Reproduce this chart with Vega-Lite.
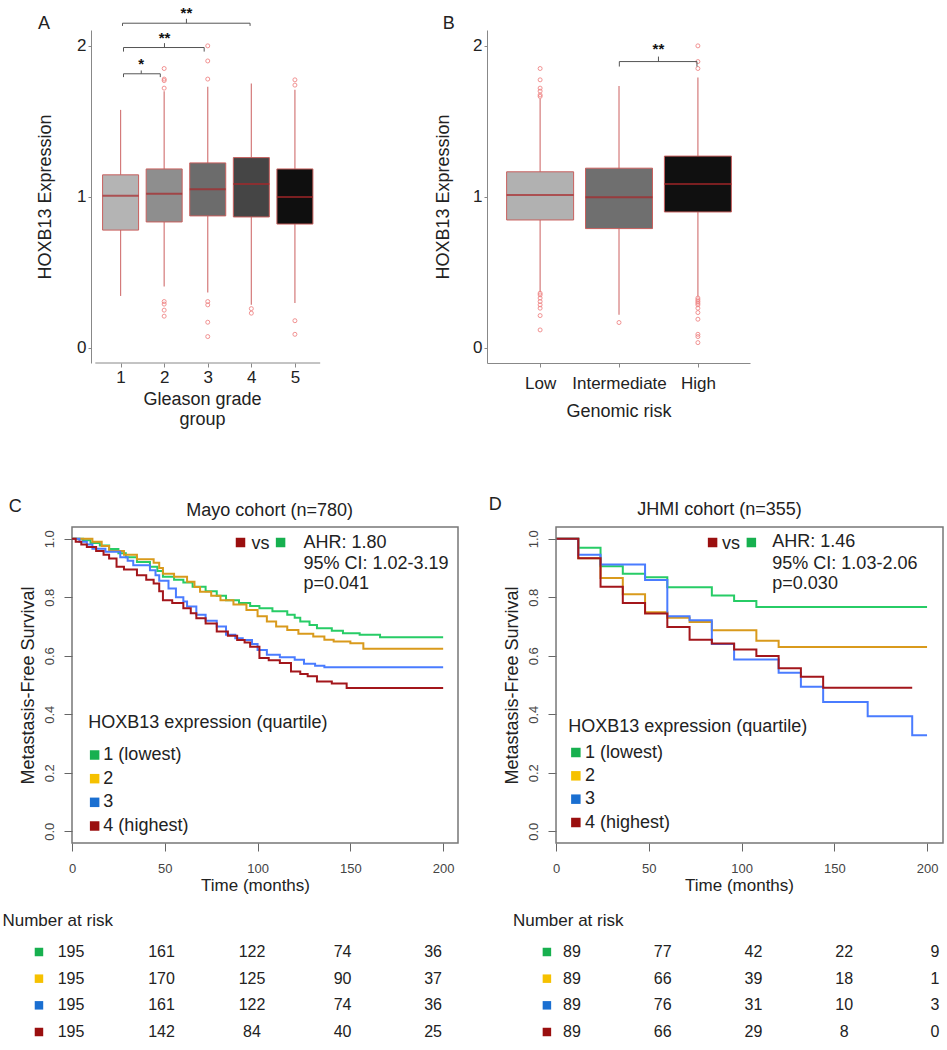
{
"$schema": "https://vega.github.io/schema/vega-lite/v6.json",
"background": "white",
"padding": {"left": 1, "top": 6, "right": 0, "bottom": 0},
"autosize": {"type": "pad"},
"config": {
  "font": "Liberation Sans",
  "view": {"stroke": null},
  "axis": {"grid": false, "titleFontWeight": "normal", "labelColor": "#222", "titleColor": "#222", "labelFont": "Liberation Sans", "titleFont": "Liberation Sans"},
  "text": {"font": "Liberation Sans", "color": "#222"}
},
"datasets": {
  "gleason": [
    {"g": 1, "lower": 0.344, "q1": 0.78, "median": 1.007, "q3": 1.146, "upper": 1.576},
    {"g": 2, "lower": 0.406, "q1": 0.834, "median": 1.02, "q3": 1.185, "upper": 1.70},
    {"g": 3, "lower": 0.366, "q1": 0.874, "median": 1.05, "q3": 1.225, "upper": 1.73},
    {"g": 4, "lower": 0.285, "q1": 0.867, "median": 1.086, "q3": 1.26, "upper": 1.75},
    {"g": 5, "lower": 0.298, "q1": 0.82, "median": 1.0, "q3": 1.185, "upper": 1.71}
  ],
  "gleasonOut": [
    {"g": 2, "v": 1.85}, {"g": 2, "v": 1.78}, {"g": 2, "v": 1.77}, {"g": 2, "v": 1.72}, {"g": 2, "v": 0.307}, {"g": 2, "v": 0.29}, {"g": 2, "v": 0.25}, {"g": 2, "v": 0.21},
    {"g": 3, "v": 2.0}, {"g": 3, "v": 1.90}, {"g": 3, "v": 1.78}, {"g": 3, "v": 0.307}, {"g": 3, "v": 0.285}, {"g": 3, "v": 0.17}, {"g": 3, "v": 0.075},
    {"g": 4, "v": 0.26}, {"g": 4, "v": 0.23},
    {"g": 5, "v": 1.775}, {"g": 5, "v": 1.74}, {"g": 5, "v": 0.18}, {"g": 5, "v": 0.09}
  ],
  "gleasonBr": [
    {"from": 1.067, "to": 1.911, "y": 1.815, "lo": 1.793, "mid": 1.474, "hi": 1.837, "ly": 1.845, "label": "*"},
    {"from": 1.067, "to": 2.918, "y": 1.989, "lo": 1.962, "mid": 2.007, "hi": 2.018, "ly": 2.017, "label": "**"},
    {"from": 1.044, "to": 3.971, "y": 2.15, "lo": 2.132, "mid": 2.511, "hi": 2.179, "ly": 2.183, "label": "**"}
  ],
  "genomic": [
    {"g": 1, "lower": 0.37, "q1": 0.847, "median": 1.013, "q3": 1.166, "upper": 1.65},
    {"g": 2, "lower": 0.22, "q1": 0.79, "median": 0.997, "q3": 1.19, "upper": 1.735},
    {"g": 3, "lower": 0.34, "q1": 0.90, "median": 1.085, "q3": 1.27, "upper": 1.79}
  ],
  "genomicOut": [
    {"g": 1, "v": 1.85}, {"g": 1, "v": 1.775}, {"g": 1, "v": 1.72}, {"g": 1, "v": 1.70}, {"g": 1, "v": 1.675}, {"g": 1, "v": 1.665},
    {"g": 1, "v": 0.362}, {"g": 1, "v": 0.351}, {"g": 1, "v": 0.33}, {"g": 1, "v": 0.307}, {"g": 1, "v": 0.285}, {"g": 1, "v": 0.263}, {"g": 1, "v": 0.214}, {"g": 1, "v": 0.119},
    {"g": 2, "v": 0.168},
    {"g": 3, "v": 2.0}, {"g": 3, "v": 1.896}, {"g": 3, "v": 1.85},
    {"g": 3, "v": 0.33}, {"g": 3, "v": 0.318}, {"g": 3, "v": 0.307}, {"g": 3, "v": 0.296}, {"g": 3, "v": 0.285}, {"g": 3, "v": 0.263}, {"g": 3, "v": 0.234}, {"g": 3, "v": 0.19}, {"g": 3, "v": 0.09}, {"g": 3, "v": 0.075}, {"g": 3, "v": 0.035}
  ],
  "genomicBr": [
    {"from": 2.004, "to": 2.988, "y": 1.896, "lo": 1.863, "mid": 2.5, "hi": 1.929, "ly": 1.949, "label": "**"}
  ],
  "legendRows": [
    {"q": "1", "label": "1 (lowest)"}, {"q": "2", "label": "2"}, {"q": "3", "label": "3"}, {"q": "4", "label": "4 (highest)"}
  ],
  "mayo": [
    {"q":"1","t":0,"s":1},{"q":"1","t":6,"s":0.995},{"q":"1","t":10,"s":0.985},{"q":"1","t":15,"s":0.977},{"q":"1","t":20,"s":0.965},{"q":"1","t":25,"s":0.95},{"q":"1","t":29,"s":0.937},{"q":"1","t":35,"s":0.92},{"q":"1","t":42,"s":0.904},{"q":"1","t":46,"s":0.89},{"q":"1","t":49,"s":0.87},{"q":"1","t":55,"s":0.86},{"q":"1","t":60,"s":0.85},{"q":"1","t":65,"s":0.836},{"q":"1","t":72,"s":0.82},{"q":"1","t":78,"s":0.805},{"q":"1","t":83,"s":0.79},{"q":"1","t":90,"s":0.78},{"q":"1","t":96,"s":0.77},{"q":"1","t":101,"s":0.762},{"q":"1","t":108,"s":0.752},{"q":"1","t":116,"s":0.74},{"q":"1","t":120,"s":0.73},{"q":"1","t":123,"s":0.717},{"q":"1","t":128,"s":0.705},{"q":"1","t":132,"s":0.694},{"q":"1","t":140,"s":0.685},{"q":"1","t":146,"s":0.677},{"q":"1","t":155,"s":0.672},{"q":"1","t":166,"s":0.663},{"q":"1","t":200,"s":0.663},
    {"q":"2","t":0,"s":1},{"q":"2","t":11,"s":0.99},{"q":"2","t":16,"s":0.975},{"q":"2","t":20,"s":0.958},{"q":"2","t":28,"s":0.945},{"q":"2","t":35,"s":0.93},{"q":"2","t":44,"s":0.918},{"q":"2","t":47,"s":0.9},{"q":"2","t":49,"s":0.88},{"q":"2","t":55,"s":0.87},{"q":"2","t":62,"s":0.853},{"q":"2","t":66,"s":0.835},{"q":"2","t":69,"s":0.819},{"q":"2","t":75,"s":0.805},{"q":"2","t":80,"s":0.79},{"q":"2","t":87,"s":0.775},{"q":"2","t":94,"s":0.756},{"q":"2","t":100,"s":0.735},{"q":"2","t":105,"s":0.717},{"q":"2","t":110,"s":0.7},{"q":"2","t":116,"s":0.688},{"q":"2","t":122,"s":0.675},{"q":"2","t":130,"s":0.666},{"q":"2","t":136,"s":0.655},{"q":"2","t":141,"s":0.649},{"q":"2","t":150,"s":0.643},{"q":"2","t":157,"s":0.624},{"q":"2","t":200,"s":0.624},
    {"q":"3","t":0,"s":1},{"q":"3","t":4,"s":0.99},{"q":"3","t":8,"s":0.98},{"q":"3","t":11,"s":0.966},{"q":"3","t":18,"s":0.955},{"q":"3","t":26,"s":0.937},{"q":"3","t":30,"s":0.925},{"q":"3","t":33,"s":0.909},{"q":"3","t":42,"s":0.892},{"q":"3","t":45,"s":0.875},{"q":"3","t":47,"s":0.856},{"q":"3","t":52,"s":0.83},{"q":"3","t":56,"s":0.8},{"q":"3","t":60,"s":0.785},{"q":"3","t":62,"s":0.768},{"q":"3","t":67,"s":0.74},{"q":"3","t":72,"s":0.72},{"q":"3","t":78,"s":0.7},{"q":"3","t":83,"s":0.672},{"q":"3","t":88,"s":0.66},{"q":"3","t":92,"s":0.654},{"q":"3","t":97,"s":0.64},{"q":"3","t":100,"s":0.62},{"q":"3","t":105,"s":0.603},{"q":"3","t":112,"s":0.595},{"q":"3","t":120,"s":0.586},{"q":"3","t":125,"s":0.573},{"q":"3","t":131,"s":0.566},{"q":"3","t":136,"s":0.561},{"q":"3","t":200,"s":0.561},
    {"q":"4","t":0,"s":1},{"q":"4","t":2,"s":0.99},{"q":"4","t":5,"s":0.98},{"q":"4","t":8,"s":0.972},{"q":"4","t":13,"s":0.958},{"q":"4","t":17,"s":0.945},{"q":"4","t":20,"s":0.932},{"q":"4","t":24,"s":0.904},{"q":"4","t":28,"s":0.895},{"q":"4","t":35,"s":0.875},{"q":"4","t":40,"s":0.86},{"q":"4","t":44,"s":0.847},{"q":"4","t":47,"s":0.82},{"q":"4","t":49,"s":0.79},{"q":"4","t":54,"s":0.78},{"q":"4","t":60,"s":0.762},{"q":"4","t":64,"s":0.745},{"q":"4","t":67,"s":0.728},{"q":"4","t":72,"s":0.71},{"q":"4","t":78,"s":0.683},{"q":"4","t":84,"s":0.668},{"q":"4","t":89,"s":0.654},{"q":"4","t":93,"s":0.645},{"q":"4","t":96,"s":0.631},{"q":"4","t":101,"s":0.592},{"q":"4","t":106,"s":0.585},{"q":"4","t":112,"s":0.575},{"q":"4","t":118,"s":0.546},{"q":"4","t":123,"s":0.538},{"q":"4","t":127,"s":0.53},{"q":"4","t":132,"s":0.512},{"q":"4","t":140,"s":0.505},{"q":"4","t":148,"s":0.49},{"q":"4","t":200,"s":0.49}
  ],
  "jhmi": [
    {"q":"1","t":0,"s":1},{"q":"1","t":12,"s":0.969},{"q":"1","t":24,"s":0.906},{"q":"1","t":36,"s":0.88},{"q":"1","t":48,"s":0.868},{"q":"1","t":60,"s":0.834},{"q":"1","t":84,"s":0.806},{"q":"1","t":96,"s":0.787},{"q":"1","t":108,"s":0.767},{"q":"1","t":200,"s":0.767},
    {"q":"2","t":0,"s":1},{"q":"2","t":12,"s":0.933},{"q":"2","t":24,"s":0.866},{"q":"2","t":36,"s":0.81},{"q":"2","t":48,"s":0.749},{"q":"2","t":60,"s":0.73},{"q":"2","t":72,"s":0.715},{"q":"2","t":84,"s":0.687},{"q":"2","t":108,"s":0.651},{"q":"2","t":120,"s":0.63},{"q":"2","t":200,"s":0.63},
    {"q":"3","t":0,"s":1},{"q":"3","t":12,"s":0.945},{"q":"3","t":24,"s":0.912},{"q":"3","t":48,"s":0.859},{"q":"3","t":60,"s":0.735},{"q":"3","t":72,"s":0.721},{"q":"3","t":84,"s":0.64},{"q":"3","t":96,"s":0.587},{"q":"3","t":120,"s":0.542},{"q":"3","t":132,"s":0.494},{"q":"3","t":144,"s":0.442},{"q":"3","t":168,"s":0.393},{"q":"3","t":192,"s":0.328},{"q":"3","t":200,"s":0.328},
    {"q":"4","t":0,"s":1},{"q":"4","t":12,"s":0.933},{"q":"4","t":24,"s":0.836},{"q":"4","t":36,"s":0.78},{"q":"4","t":48,"s":0.744},{"q":"4","t":60,"s":0.698},{"q":"4","t":72,"s":0.655},{"q":"4","t":84,"s":0.642},{"q":"4","t":96,"s":0.621},{"q":"4","t":108,"s":0.599},{"q":"4","t":120,"s":0.557},{"q":"4","t":132,"s":0.528},{"q":"4","t":144,"s":0.491},{"q":"4","t":192,"s":0.491}
  ],
  "riskMayo": [
    {"q":"1","t":0,"n":195},{"q":"1","t":50,"n":161},{"q":"1","t":100,"n":122},{"q":"1","t":150,"n":74},{"q":"1","t":200,"n":36},
    {"q":"2","t":0,"n":195},{"q":"2","t":50,"n":170},{"q":"2","t":100,"n":125},{"q":"2","t":150,"n":90},{"q":"2","t":200,"n":37},
    {"q":"3","t":0,"n":195},{"q":"3","t":50,"n":161},{"q":"3","t":100,"n":122},{"q":"3","t":150,"n":74},{"q":"3","t":200,"n":36},
    {"q":"4","t":0,"n":195},{"q":"4","t":50,"n":142},{"q":"4","t":100,"n":84},{"q":"4","t":150,"n":40},{"q":"4","t":200,"n":25}
  ],
  "riskJhmi": [
    {"q":"1","t":0,"n":89},{"q":"1","t":50,"n":77},{"q":"1","t":100,"n":42},{"q":"1","t":150,"n":22},{"q":"1","t":200,"n":9},
    {"q":"2","t":0,"n":89},{"q":"2","t":50,"n":66},{"q":"2","t":100,"n":39},{"q":"2","t":150,"n":18},{"q":"2","t":200,"n":1},
    {"q":"3","t":0,"n":89},{"q":"3","t":50,"n":76},{"q":"3","t":100,"n":31},{"q":"3","t":150,"n":10},{"q":"3","t":200,"n":3},
    {"q":"4","t":0,"n":89},{"q":"4","t":50,"n":66},{"q":"4","t":100,"n":29},{"q":"4","t":150,"n":8},{"q":"4","t":200,"n":0}
  ]
},
"columns": 2,
"align": "none",
"bounds": "flush",
"spacing": {"row": 164, "column": 29},
"resolve": {"scale": {"fill": "independent", "stroke": "independent"}, "legend": {"fill": "independent"}},
"concat": [
  {
    "width": 317, "height": 333,
    "layer": [
      {"data": {"name": "gleason"},
       "mark": {"type": "rule", "color": "#d47a7a", "strokeWidth": 1.2},
       "encoding": {
         "x": {"field": "g", "type": "quantitative", "scale": {"domain": [0, 7.044], "nice": false, "zero": false},
           "axis": {"title": ["Gleason grade", "group"], "values": [1, 2, 3, 4, 5], "format": "d", "domain": false, "tickColor": "#888", "tickSize": 4, "labelFontSize": 17, "labelPadding": 2, "labelFlush": false, "labelOverlap": false, "titleFontSize": 18, "titlePadding": 5, "titleX": 130, "titleLineHeight": 20}},
         "y": {"field": "lower", "type": "quantitative", "scale": {"domain": [-0.1, 2.105], "nice": false, "zero": false},
           "axis": {"title": "HOXB13 Expression", "values": [0, 0.5, 1, 1.5, 2], "format": "d", "labelExpr": "datum.value % 1 === 0 ? datum.label : ''", "offset": -19, "domainColor": "#888", "tickColor": "#888", "tickSize": 3, "labelFontSize": 17, "labelPadding": 2, "labelFlush": false, "labelOverlap": false, "titleFontSize": 18, "titlePadding": 22}},
         "y2": {"field": "upper"}
       }},
      {"data": {"name": "gleason"},
       "mark": {"type": "bar", "orient": "vertical", "size": 36, "stroke": "#c8605e", "strokeWidth": 1},
       "encoding": {
         "x": {"field": "g", "type": "quantitative"},
         "y": {"field": "q1", "type": "quantitative"},
         "y2": {"field": "q3"},
         "fill": {"field": "g", "type": "nominal", "scale": {"domain": [1, 2, 3, 4, 5], "range": ["#b4b4b4", "#8e8e8e", "#6c6c6c", "#454545", "#0f0f0f"]}, "legend": null}
       }},
      {"data": {"name": "gleason"},
       "mark": {"type": "tick", "orient": "horizontal", "size": 36, "thickness": 2, "color": "#a8262a"},
       "encoding": {"x": {"field": "g", "type": "quantitative"}, "y": {"field": "median", "type": "quantitative"}}},
      {"data": {"name": "gleasonOut"},
       "mark": {"type": "point", "shape": "circle", "filled": false, "size": 16, "strokeWidth": 1, "color": "#f08080", "opacity": 0.85},
       "encoding": {"x": {"field": "g", "type": "quantitative"}, "y": {"field": "v", "type": "quantitative"}}},
      {"data": {"values": [{}]},
       "mark": {"type": "rule", "color": "#888", "strokeWidth": 1},
       "encoding": {"x": {"datum": 0.42}, "x2": {"datum": 5.58}, "y": {"datum": -0.1}}},
      {"data": {"name": "gleasonBr"}, "mark": {"type": "rule", "color": "#555"},
       "encoding": {"x": {"field": "from", "type": "quantitative"}, "x2": {"field": "to"}, "y": {"field": "y", "type": "quantitative"}}},
      {"data": {"name": "gleasonBr"}, "mark": {"type": "rule", "color": "#555"},
       "encoding": {"x": {"field": "from", "type": "quantitative"}, "y": {"field": "y", "type": "quantitative"}, "y2": {"field": "lo"}}},
      {"data": {"name": "gleasonBr"}, "mark": {"type": "rule", "color": "#555"},
       "encoding": {"x": {"field": "to", "type": "quantitative"}, "y": {"field": "y", "type": "quantitative"}, "y2": {"field": "lo"}}},
      {"data": {"name": "gleasonBr"}, "mark": {"type": "rule", "color": "#555"},
       "encoding": {"x": {"field": "mid", "type": "quantitative"}, "y": {"field": "y", "type": "quantitative"}, "y2": {"field": "hi"}}},
      {"data": {"name": "gleasonBr"}, "mark": {"type": "text", "fontSize": 15, "fontWeight": "bold", "baseline": "alphabetic", "align": "center", "color": "#111"},
       "encoding": {"x": {"field": "mid", "type": "quantitative"}, "y": {"field": "ly", "type": "quantitative"}, "text": {"field": "label"}}},
      {"data": {"values": [{"label": "A"}]}, "mark": {"type": "text", "fontSize": 18, "baseline": "middle", "align": "center"},
       "encoding": {"x": {"datum": -0.756}, "y": {"datum": 2.145}, "text": {"field": "label"}}}
    ]
  },
  {
    "width": 263, "height": 333,
    "layer": [
      {"data": {"name": "genomic"},
       "mark": {"type": "rule", "color": "#d47a7a", "strokeWidth": 1.2},
       "encoding": {
         "x": {"field": "g", "type": "quantitative", "scale": {"domain": [0.39, 3.597], "nice": false, "zero": false},
           "axis": {"title": "Genomic risk", "values": [1, 2, 3], "labelExpr": "datum.value == 1 ? 'Low' : datum.value == 2 ? 'Intermediate' : 'High'", "domainColor": "#888", "tickColor": "#888", "tickSize": 4, "labelFontSize": 17, "labelPadding": 8, "labelFlush": false, "labelOverlap": false, "titleFontSize": 18, "titlePadding": 11}},
         "y": {"field": "lower", "type": "quantitative", "scale": {"domain": [-0.1, 2.105], "nice": false, "zero": false},
           "axis": {"title": "HOXB13 Expression", "values": [0, 0.5, 1, 1.5, 2], "format": "d", "labelExpr": "datum.value % 1 === 0 ? datum.label : ''", "domainColor": "#888", "tickColor": "#888", "tickSize": 3, "labelFontSize": 17, "labelPadding": 2, "labelFlush": false, "labelOverlap": false, "titleFontSize": 18, "titlePadding": 20}},
         "y2": {"field": "upper"}
       }},
      {"data": {"name": "genomic"},
       "mark": {"type": "bar", "orient": "vertical", "size": 67, "stroke": "#c8605e", "strokeWidth": 1},
       "encoding": {
         "x": {"field": "g", "type": "quantitative"},
         "y": {"field": "q1", "type": "quantitative"},
         "y2": {"field": "q3"},
         "fill": {"field": "g", "type": "nominal", "scale": {"domain": [1, 2, 3], "range": ["#b1b1b1", "#6f6f6f", "#101010"]}, "legend": null}
       }},
      {"data": {"name": "genomic"},
       "mark": {"type": "tick", "orient": "horizontal", "size": 67, "thickness": 2, "color": "#a8262a"},
       "encoding": {"x": {"field": "g", "type": "quantitative"}, "y": {"field": "median", "type": "quantitative"}}},
      {"data": {"name": "genomicOut"},
       "mark": {"type": "point", "shape": "circle", "filled": false, "size": 16, "strokeWidth": 1, "color": "#f08080", "opacity": 0.85},
       "encoding": {"x": {"field": "g", "type": "quantitative"}, "y": {"field": "v", "type": "quantitative"}}},
      {"data": {"name": "genomicBr"}, "mark": {"type": "rule", "color": "#555"},
       "encoding": {"x": {"field": "from", "type": "quantitative"}, "x2": {"field": "to"}, "y": {"field": "y", "type": "quantitative"}}},
      {"data": {"name": "genomicBr"}, "mark": {"type": "rule", "color": "#555"},
       "encoding": {"x": {"field": "from", "type": "quantitative"}, "y": {"field": "y", "type": "quantitative"}, "y2": {"field": "lo"}}},
      {"data": {"name": "genomicBr"}, "mark": {"type": "rule", "color": "#555"},
       "encoding": {"x": {"field": "to", "type": "quantitative"}, "y": {"field": "y", "type": "quantitative"}, "y2": {"field": "lo"}}},
      {"data": {"name": "genomicBr"}, "mark": {"type": "rule", "color": "#555"},
       "encoding": {"x": {"field": "mid", "type": "quantitative"}, "y": {"field": "y", "type": "quantitative"}, "y2": {"field": "hi"}}},
      {"data": {"name": "genomicBr"}, "mark": {"type": "text", "fontSize": 15, "fontWeight": "bold", "baseline": "alphabetic", "align": "center", "color": "#111"},
       "encoding": {"x": {"field": "mid", "type": "quantitative"}, "y": {"field": "ly", "type": "quantitative"}, "text": {"field": "label"}}},
      {"data": {"values": [{"label": "B"}]}, "mark": {"type": "text", "fontSize": 18, "baseline": "middle", "align": "center"},
       "encoding": {"x": {"datum": -0.159}, "y": {"datum": 2.145}, "text": {"field": "label"}}}
    ]
  },
  {
    "width": 386, "height": 316,
    "view": {"stroke": "#777", "strokeWidth": 1.5},
    "layer": [
      {"layer": [
        {"data": {"name": "mayo"},
         "mark": {"type": "line", "interpolate": "step-after", "strokeWidth": 2},
         "encoding": {
           "x": {"field": "t", "type": "quantitative", "scale": {"domain": [0, 208], "nice": false, "zero": false},
             "axis": {"title": "Time (months)", "values": [0, 50, 100, 150, 200], "domain": false, "tickColor": "#666", "tickSize": 8, "labelFontSize": 13, "labelColor": "#444", "labelPadding": 11, "labelFlush": false, "labelOverlap": false, "titleFontSize": 17, "titlePadding": 2, "titleX": 183}},
           "y": {"field": "s", "type": "quantitative", "scale": {"domain": [-0.04, 1.04], "nice": false, "zero": false},
             "axis": {"title": "Metastasis-Free Survival", "values": [0, 0.2, 0.4, 0.6, 0.8, 1], "format": ".1f", "domain": false, "tickColor": "#666", "tickSize": 8, "labelAngle": 270, "labelAlign": "center", "labelBaseline": "bottom", "labelFontSize": 13, "labelColor": "#444", "labelPadding": 8, "labelFlush": false, "labelOverlap": false, "titleFontSize": 18, "titlePadding": 6}},
           "stroke": {"field": "q", "type": "nominal", "scale": {"domain": ["1", "2", "3", "4"], "range": ["#27cc66", "#d99a1c", "#4a7cff", "#a3161b"]}, "legend": null}
         }},
        {"data": {"values": [{}]}, "mark": {"type": "point", "shape": "square", "filled": true, "size": 90, "opacity": 1, "color": "#9a0f0f"},
         "encoding": {"x": {"datum": 90.8}, "y": {"datum": 0.987}}},
        {"data": {"values": [{}]}, "mark": {"type": "point", "shape": "square", "filled": true, "size": 90, "opacity": 1, "color": "#17b04f"},
         "encoding": {"x": {"datum": 112.4}, "y": {"datum": 0.987}}},
        {"data": {"values": [{"label": "vs"}]}, "mark": {"type": "text", "fontSize": 18, "align": "center", "baseline": "middle"},
         "encoding": {"x": {"datum": 101.6}, "y": {"datum": 0.983}, "text": {"field": "label"}}},
        {"data": {"values": [{"label": "AHR: 1.80"}]}, "mark": {"type": "text", "fontSize": 18, "align": "left", "baseline": "middle"},
         "encoding": {"x": {"datum": 124.7}, "y": {"datum": 0.987}, "text": {"field": "label"}}},
        {"data": {"values": [{"label": "95% CI: 1.02-3.19"}]}, "mark": {"type": "text", "fontSize": 18, "align": "left", "baseline": "middle"},
         "encoding": {"x": {"datum": 124.7}, "y": {"datum": 0.915}, "text": {"field": "label"}}},
        {"data": {"values": [{"label": "p=0.041"}]}, "mark": {"type": "text", "fontSize": 18, "align": "left", "baseline": "middle"},
         "encoding": {"x": {"datum": 124.7}, "y": {"datum": 0.844}, "text": {"field": "label"}}},
        {"data": {"values": [{"label": "HOXB13 expression (quartile)"}]}, "mark": {"type": "text", "fontSize": 18, "align": "left", "baseline": "middle"},
         "encoding": {"x": {"datum": 8.8}, "y": {"datum": 0.371}, "text": {"field": "label"}}},
        {"data": {"values": [{"label": "Mayo cohort (n=780)"}]}, "mark": {"type": "text", "fontSize": 18, "align": "center", "baseline": "middle"},
         "encoding": {"x": {"datum": 106.5}, "y": {"datum": 1.095}, "text": {"field": "label"}}},
        {"data": {"values": [{"label": "C"}]}, "mark": {"type": "text", "fontSize": 18, "align": "center", "baseline": "middle"},
         "encoding": {"x": {"datum": -30.6}, "y": {"datum": 1.11}, "text": {"field": "label"}}},
        {"data": {"values": [{"label": "Number at risk"}]}, "mark": {"type": "text", "fontSize": 17, "align": "left", "baseline": "middle"},
         "encoding": {"x": {"datum": -37.5}, "y": {"datum": -0.306}, "text": {"field": "label"}}}
      ]},
      {"data": {"name": "riskMayo"},
       "layer": [
        {"transform": [{"filter": "datum.t === 0"}],
         "mark": {"type": "point", "shape": "square", "filled": true, "size": 72, "opacity": 1},
         "encoding": {
           "x": {"datum": -17.7, "type": "quantitative", "scale": {"domain": [0.55, 213.8], "nice": false, "zero": false}, "axis": null},
           "y": {"field": "q", "type": "ordinal", "scale": {"type": "point", "domain": ["1", "2", "3", "4"], "range": [425, 505], "padding": 0}, "axis": null},
           "fill": {"field": "q", "type": "nominal", "scale": {"domain": ["1", "2", "3", "4"], "range": ["#17b04f", "#f6c100", "#1a6fd1", "#9a0f0f"]}, "legend": null}
         }},
        {"mark": {"type": "text", "fontSize": 16, "align": "center", "baseline": "middle"},
         "encoding": {
           "x": {"field": "t", "type": "quantitative"},
           "y": {"field": "q", "type": "ordinal"},
           "text": {"field": "n"}
         }}
       ]},
      {"data": {"name": "legendRows"},
       "layer": [
        {"mark": {"type": "point", "shape": "square", "filled": true, "size": 90, "opacity": 1},
         "encoding": {
           "x": {"datum": 12.2, "type": "quantitative", "scale": {"domain": [0, 208], "nice": false, "zero": false}, "axis": null},
           "y": {"field": "q", "type": "ordinal", "scale": {"type": "point", "domain": ["1", "2", "3", "4"], "range": [228, 299], "padding": 0}, "axis": null},
           "fill": {"field": "q", "type": "nominal", "legend": null}
         }},
        {"mark": {"type": "text", "fontSize": 18, "align": "left", "baseline": "middle"},
         "encoding": {
           "x": {"datum": 16.9},
           "y": {"field": "q", "type": "ordinal"},
           "text": {"field": "label"}
         }}
       ]}
    ],
    "resolve": {"scale": {"y": "independent", "x": "independent"}, "axis": {"y": "independent", "x": "independent"}}
  },
  {
    "width": 456, "height": 316,
    "layer": [
      {"layer": [
        {"data": {"name": "jhmi"},
         "mark": {"type": "line", "interpolate": "step-after", "strokeWidth": 2},
         "encoding": {
           "x": {"field": "t", "type": "quantitative", "scale": {"domain": [-37.2, 208.6], "nice": false, "zero": false},
             "axis": {"title": "Time (months)", "values": [0, 50, 100, 150, 200], "domain": false, "tickColor": "#666", "tickSize": 8, "labelFontSize": 13, "labelColor": "#444", "labelPadding": 11, "labelFlush": false, "labelOverlap": false, "titleFontSize": 17, "titlePadding": 2, "titleX": 252}},
           "y": {"field": "s", "type": "quantitative", "scale": {"domain": [-0.04, 1.04], "nice": false, "zero": false},
             "axis": {"title": "Metastasis-Free Survival", "values": [0, 0.2, 0.4, 0.6, 0.8, 1], "format": ".1f", "domain": false, "offset": -69, "tickColor": "#666", "tickSize": 8, "labelAngle": 270, "labelAlign": "center", "labelBaseline": "bottom", "labelFontSize": 13, "labelColor": "#444", "labelPadding": 8, "labelFlush": false, "labelOverlap": false, "titleFontSize": 18, "titlePadding": 6}},
           "stroke": {"field": "q", "type": "nominal", "scale": {"domain": ["1", "2", "3", "4"], "range": ["#27cc66", "#d99a1c", "#4a7cff", "#a3161b"]}, "legend": null}
         }},
        {"data": {"values": [{}]}, "mark": {"type": "rect", "fillOpacity": 0, "stroke": "#777", "strokeWidth": 1.5},
         "encoding": {"x": {"datum": 0}, "x2": {"datum": 208.6}, "y": {"datum": -0.04}, "y2": {"datum": 1.04}}},
        {"data": {"values": [{}]}, "mark": {"type": "point", "shape": "square", "filled": true, "size": 90, "opacity": 1, "color": "#9a0f0f"},
         "encoding": {"x": {"datum": 84.4}, "y": {"datum": 0.987}}},
        {"data": {"values": [{}]}, "mark": {"type": "point", "shape": "square", "filled": true, "size": 90, "opacity": 1, "color": "#17b04f"},
         "encoding": {"x": {"datum": 105.3}, "y": {"datum": 0.987}}},
        {"data": {"values": [{"label": "vs"}]}, "mark": {"type": "text", "fontSize": 18, "align": "center", "baseline": "middle"},
         "encoding": {"x": {"datum": 94.3}, "y": {"datum": 0.983}, "text": {"field": "label"}}},
        {"data": {"values": [{"label": "AHR: 1.46"}]}, "mark": {"type": "text", "fontSize": 18, "align": "left", "baseline": "middle"},
         "encoding": {"x": {"datum": 116.6}, "y": {"datum": 0.988}, "text": {"field": "label"}}},
        {"data": {"values": [{"label": "95% CI: 1.03-2.06"}]}, "mark": {"type": "text", "fontSize": 18, "align": "left", "baseline": "middle"},
         "encoding": {"x": {"datum": 116.6}, "y": {"datum": 0.915}, "text": {"field": "label"}}},
        {"data": {"values": [{"label": "p=0.030"}]}, "mark": {"type": "text", "fontSize": 18, "align": "left", "baseline": "middle"},
         "encoding": {"x": {"datum": 116.6}, "y": {"datum": 0.844}, "text": {"field": "label"}}},
        {"data": {"values": [{"label": "HOXB13 expression (quartile)"}]}, "mark": {"type": "text", "fontSize": 18, "align": "left", "baseline": "middle"},
         "encoding": {"x": {"datum": 6.6}, "y": {"datum": 0.357}, "text": {"field": "label"}}},
        {"data": {"values": [{"label": "JHMI cohort (n=355)"}]}, "mark": {"type": "text", "fontSize": 18, "align": "center", "baseline": "middle"},
         "encoding": {"x": {"datum": 88.1}, "y": {"datum": 1.097}, "text": {"field": "label"}}},
        {"data": {"values": [{"label": "D"}]}, "mark": {"type": "text", "fontSize": 18, "align": "center", "baseline": "middle"},
         "encoding": {"x": {"datum": -32.7}, "y": {"datum": 1.116}, "text": {"field": "label"}}},
        {"data": {"values": [{"label": "Number at risk"}]}, "mark": {"type": "text", "fontSize": 17, "align": "left", "baseline": "middle"},
         "encoding": {"x": {"datum": -23.2}, "y": {"datum": -0.306}, "text": {"field": "label"}}}
      ]},
      {"data": {"name": "riskJhmi"},
       "layer": [
        {"transform": [{"filter": "datum.t === 0"}],
         "mark": {"type": "point", "shape": "square", "filled": true, "size": 72, "opacity": 1},
         "encoding": {
           "x": {"datum": -13.8, "type": "quantitative", "scale": {"domain": [-46.8, 204.4], "nice": false, "zero": false}, "axis": null},
           "y": {"field": "q", "type": "ordinal", "scale": {"type": "point", "domain": ["1", "2", "3", "4"], "range": [425, 505], "padding": 0}, "axis": null},
           "fill": {"field": "q", "type": "nominal", "scale": {"domain": ["1", "2", "3", "4"], "range": ["#17b04f", "#f6c100", "#1a6fd1", "#9a0f0f"]}, "legend": null}
         }},
        {"mark": {"type": "text", "fontSize": 16, "align": "center", "baseline": "middle"},
         "encoding": {
           "x": {"field": "t", "type": "quantitative"},
           "y": {"field": "q", "type": "ordinal"},
           "text": {"field": "n"}
         }}
       ]},
      {"data": {"name": "legendRows"},
       "layer": [
        {"mark": {"type": "point", "shape": "square", "filled": true, "size": 90, "opacity": 1},
         "encoding": {
           "x": {"datum": 10.7, "type": "quantitative", "scale": {"domain": [-37.2, 208.6], "nice": false, "zero": false}, "axis": null},
           "y": {"field": "q", "type": "ordinal", "scale": {"type": "point", "domain": ["1", "2", "3", "4"], "range": [225.5, 295.5], "padding": 0}, "axis": null},
           "fill": {"field": "q", "type": "nominal", "legend": null}
         }},
        {"mark": {"type": "text", "fontSize": 18, "align": "left", "baseline": "middle"},
         "encoding": {
           "x": {"datum": 15.6},
           "y": {"field": "q", "type": "ordinal"},
           "text": {"field": "label"}
         }}
       ]}
    ],
    "resolve": {"scale": {"y": "independent", "x": "independent"}, "axis": {"y": "independent", "x": "independent"}}
  }
]
}
